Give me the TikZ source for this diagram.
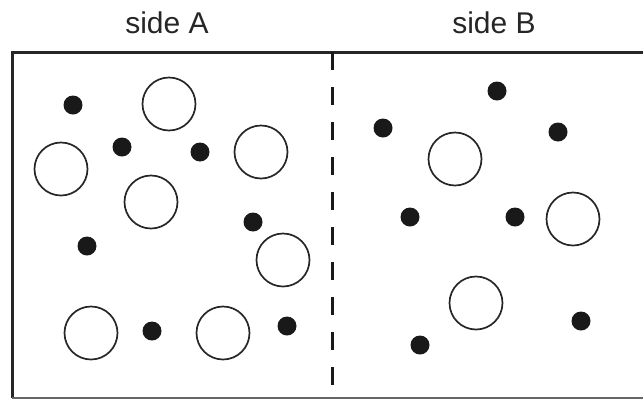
\documentclass[tikz,border=0pt]{standalone}
\usepackage{fontspec}
\setmainfont{Liberation Sans}
\begin{document}
\begin{tikzpicture}[x=1pt,y=-1pt,
  dot/.style={circle,fill=black!90,inner sep=0pt,minimum size=19pt},
  ball/.style={circle,draw=black!85,line width=1.7pt,inner sep=0pt,minimum size=53pt},
  lbl/.style={anchor=base,inner sep=0pt,font=\fontsize{30}{32}\selectfont,text=black!85}]
\useasboundingbox (0,0) rectangle (643,400);
\clip (0,0) rectangle (643,400);
% container
\draw[line width=3pt,black!85] (12,398) -- (12,52) -- (660,52);
\draw[line width=2pt,black!60] (12,398) -- (660,398);
\coordinate (dtop) at (332,52);
\coordinate (dbot) at (332,388);
\draw[line width=3pt,black!90,dash pattern=on 18pt off 17pt] (dtop) -- (dbot);
% labels
\node[lbl] (la) at (167,33) {side A};
\node[lbl] (lb) at (494,33) {side B};
% side A
\node[dot] (a1) at (73,105) {};
\node[ball] (c1) at (169,104) {};
\node[ball] (c2) at (61,169) {};
\node[dot] (a2) at (122,147) {};
\node[dot] (a3) at (200,152) {};
\node[ball] (c3) at (261,152) {};
\node[ball] (c4) at (151,202) {};
\node[dot] (a4) at (253,222) {};
\node[dot] (a5) at (87,246) {};
\node[ball] (c5) at (283,260) {};
\node[ball] (c6) at (91,333) {};
\node[dot] (a6) at (152,331) {};
\node[ball] (c7) at (223,333) {};
\node[dot] (a7) at (287,326) {};
% side B
\node[dot] (b1) at (497,91) {};
\node[dot] (b2) at (383,128) {};
\node[ball] (d1) at (455,159) {};
\node[dot] (b3) at (558,132) {};
\node[dot] (b4) at (410,217) {};
\node[dot] (b5) at (515,217) {};
\node[ball] (d2) at (573,219) {};
\node[ball] (d3) at (476,303) {};
\node[dot] (b6) at (581,321) {};
\node[dot] (b7) at (420,345) {};
\end{tikzpicture}
\end{document}
